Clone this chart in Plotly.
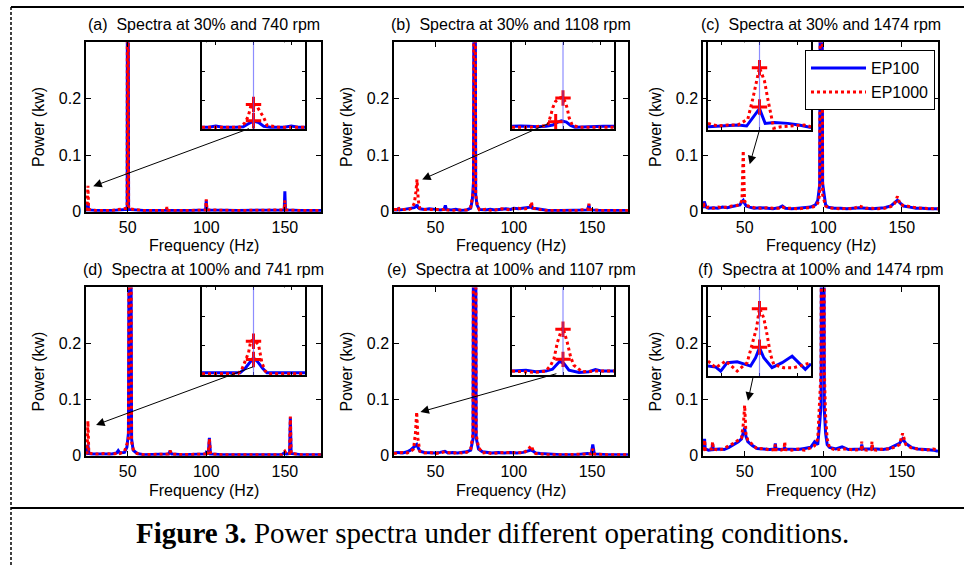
import plotly.graph_objects as go

# ---------------- text ----------------
panel_titles = ["(a)\u00a0 Spectra at 30% and 740 rpm", "(b)\u00a0 Spectra at 30% and 1108 rpm",
                "(c)\u00a0 Spectra at 30% and 1474 rpm", "(d)\u00a0 Spectra at 100% and 741 rpm",
                "(e)\u00a0 Spectra at 100% and 1107 rpm", "(f)\u00a0 Spectra at 100% and 1474 rpm"]
series_names = ["EP100", "EP1000"]
x_label = "Frequency (Hz)"
y_label = "Power (kw)"
caption_bold = "Figure 3."
caption_text = "Power spectra under different operating conditions."
x_tick_vals = [50, 100, 150]
y_tick_vals = [0, 0.1, 0.2]
y_tick_text = ["0", "0.1", "0.2"]

# ---------------- main spectra (Hz, kW) ----------------
a_freq = [23.5, 24.2, 24.7, 25.2, 30, 40, 49.4, 49.7, 50.0, 50.3, 50.6, 60, 74.5, 75, 75.5, 90,
          99.6, 100, 100.4, 120, 140, 149.6, 150, 150.4, 160, 173]
a_ep100 = [0.003, 0.003, 0.015, 0.003, 0.002, 0.002, 0.004, 0.01, 1.0, 0.01, 0.004, 0.002, 0.002, 0.005,
           0.002, 0.002, 0.003, 0.02, 0.003, 0.002, 0.002, 0.003, 0.036, 0.003, 0.002, 0.002]
a_ep1000 = [0.003, 0.004, 0.046, 0.004, 0.002, 0.002, 0.006, 0.012, 1.0, 0.012, 0.005, 0.002, 0.002, 0.008,
            0.002, 0.002, 0.003, 0.022, 0.003, 0.002, 0.002, 0.003, 0.02, 0.003, 0.002, 0.002]

b_freq = [23.5, 25.5, 26.2, 27, 30, 33, 35, 36.5, 37.5, 38.2, 39, 40, 43, 46, 50, 53, 55.5, 56.3, 57, 60,
          63, 66, 70, 72.5, 73.5, 74.3, 75, 75.7, 76.5, 78, 82, 85, 88, 92, 95, 98, 100, 103, 106, 109,
          110.5, 111.3, 112, 115, 118, 122, 130, 140, 147.3, 148, 148.7, 155, 165, 173]
b_ep100 = [0.003, 0.003, 0.005, 0.003, 0.004, 0.005, 0.006, 0.007, 0.009, 0.012,
           0.007, 0.005, 0.004, 0.005, 0.004, 0.003, 0.004, 0.011, 0.004, 0.003,
           0.004, 0.002, 0.003, 0.006, 0.02, 0.053, 1.0, 0.03, 0.012, 0.004,
           0.003, 0.004, 0.003, 0.004, 0.005, 0.004, 0.006, 0.005, 0.006, 0.007,
           0.008, 0.012, 0.006, 0.005, 0.004, 0.002, 0.002, 0.002, 0.003, 0.012,
           0.003, 0.002, 0.002, 0.002]
b_ep1000 = [0.004, 0.004, 0.008, 0.003, 0.004, 0.004, 0.006, 0.015, 0.035, 0.057,
            0.02, 0.006, 0.004, 0.004, 0.003, 0.004, 0.004, 0.006, 0.003, 0.002,
            0.003, 0.003, 0.003, 0.008, 0.025, 0.035, 1.0, 0.03, 0.015, 0.003,
            0.004, 0.002, 0.003, 0.005, 0.004, 0.003, 0.005, 0.006, 0.004, 0.006,
            0.009, 0.017, 0.006, 0.004, 0.003, 0.002, 0.002, 0.002, 0.004, 0.014,
            0.004, 0.002, 0.002, 0.002]

c_freq = [23.5, 24.3, 25.5, 27, 30, 33, 36, 39, 42, 45, 47, 48.3, 49.1, 49.9, 51, 53, 56, 60, 64, 68,
          72, 74, 76, 80, 84, 88, 92, 95, 96.5, 97.7, 98.8, 99.6, 100.5, 101.5, 103, 107, 111, 115, 119,
          123, 127, 131, 135, 139, 143, 145.5, 147.2, 149, 151, 155, 159, 163, 167, 173]
c_ep100 = [0.006, 0.018, 0.008, 0.006, 0.007, 0.006, 0.008, 0.007, 0.009, 0.01,
           0.012, 0.018, 0.02, 0.015, 0.01, 0.008, 0.006, 0.007, 0.006, 0.005,
           0.007, 0.01, 0.006, 0.005, 0.006, 0.007, 0.008, 0.012, 0.02, 0.047,
           1.0, 0.05, 0.03, 0.012, 0.008, 0.006, 0.006, 0.005, 0.006, 0.007,
           0.006, 0.005, 0.006, 0.007, 0.01, 0.016, 0.02, 0.015, 0.01, 0.008,
           0.006, 0.006, 0.005, 0.005]
c_ep1000 = [0.008, 0.012, 0.007, 0.008, 0.006, 0.008, 0.007, 0.009, 0.01, 0.011,
            0.013, 0.02, 0.108, 0.02, 0.012, 0.009, 0.007, 0.006, 0.007, 0.006,
            0.006, 0.008, 0.006, 0.006, 0.005, 0.006, 0.007, 0.01, 0.015, 0.03,
            1.0, 0.03, 0.02, 0.01, 0.007, 0.006, 0.005, 0.006, 0.005, 0.01,
            0.006, 0.006, 0.005, 0.006, 0.009, 0.015, 0.027, 0.012, 0.011, 0.008,
            0.007, 0.006, 0.006, 0.005]

d_freq = [23.5, 24.2, 24.7, 25.3, 27, 30, 35, 40, 43, 44, 45, 48, 49.5, 50.5, 51.5, 52.5, 53.5, 56, 60, 70,
          76, 77, 78, 85, 95, 99.5, 100, 101.3, 102, 102.7, 110, 130, 148, 150, 151, 153, 153.5, 154, 160, 173]
d_ep100 = [0.003, 0.004, 0.02, 0.004, 0.003, 0.003, 0.004, 0.003, 0.005, 0.009,
           0.005, 0.006, 0.015, 0.04, 1.0, 0.03, 0.01, 0.004, 0.002, 0.002,
           0.003, 0.008, 0.003, 0.002, 0.002, 0.003, 0.006, 0.003, 0.032, 0.003,
           0.002, 0.002, 0.002, 0.006, 0.003, 0.004, 0.068, 0.004, 0.002, 0.002]
d_ep1000 = [0.004, 0.005, 0.062, 0.005, 0.004, 0.003, 0.004, 0.003, 0.004, 0.005,
            0.004, 0.008, 0.02, 0.03, 1.0, 0.025, 0.012, 0.004, 0.002, 0.002,
            0.003, 0.009, 0.003, 0.002, 0.002, 0.003, 0.008, 0.003, 0.03, 0.003,
            0.002, 0.002, 0.002, 0.008, 0.003, 0.004, 0.07, 0.004, 0.002, 0.002]

e_freq = [23.5, 26, 29, 32, 34, 36, 37.2, 38, 38.8, 40, 43, 46, 50, 53, 56, 58, 61, 64, 67, 70,
          72.5, 74, 74.7, 75.3, 76, 77.5, 80, 83, 86, 90, 94, 98, 102, 106, 109, 111, 112.5, 114, 117, 121,
          130, 140, 147, 149.5, 150.5, 151.5, 160, 173]
e_ep100 = [0.005, 0.006, 0.005, 0.007, 0.01, 0.015, 0.018, 0.02, 0.015, 0.008,
           0.006, 0.005, 0.005, 0.006, 0.008, 0.005, 0.006, 0.005, 0.006, 0.007,
           0.01, 0.03, 1.0, 1.0, 0.032, 0.012, 0.007, 0.006, 0.005, 0.006,
           0.005, 0.006, 0.005, 0.006, 0.008, 0.01, 0.008, 0.005, 0.004, 0.003,
           0.002, 0.002, 0.004, 0.003, 0.02, 0.003, 0.002, 0.002]
e_ep1000 = [0.004, 0.005, 0.006, 0.005, 0.007, 0.012, 0.04, 0.078, 0.03, 0.008,
            0.005, 0.006, 0.004, 0.005, 0.007, 0.006, 0.004, 0.006, 0.005, 0.006,
            0.012, 0.04, 1.0, 1.0, 0.038, 0.015, 0.005, 0.006, 0.004, 0.005,
            0.006, 0.005, 0.006, 0.005, 0.01, 0.018, 0.009, 0.004, 0.003, 0.002,
            0.002, 0.002, 0.003, 0.003, 0.012, 0.003, 0.002, 0.002]

f_freq = [23.5, 24.1, 24.5, 24.9, 27, 29.2, 29.6, 30.0, 34, 37, 40, 43, 46, 48, 49.3, 50, 50.8, 52, 55, 58,
          62, 66, 69.1, 69.5, 69.9, 73, 75.1, 75.5, 75.9, 80, 84, 88, 92, 94.5, 96.5, 97.8, 98.6, 99.3, 100,
          100.7, 101.5, 102.5, 104, 108, 112, 116, 120, 124.1, 124.5, 124.9, 128, 130.6, 131, 131.4, 134,
          138, 142, 146, 148.5, 150.5, 152.5, 156, 160, 165, 170, 173]
f_ep100 = [0.010, 0.012, 0.030, 0.012, 0.010, 0.011, 0.022, 0.011, 0.012, 0.011,
           0.015, 0.020, 0.025, 0.030, 0.045, 0.050, 0.035, 0.025, 0.018, 0.013,
           0.012, 0.011, 0.012, 0.022, 0.012, 0.011, 0.012, 0.015, 0.012, 0.012,
           0.011, 0.013, 0.015, 0.025, 0.020, 0.060, 0.090, 1.0, 1.0, 0.080,
           0.040, 0.020, 0.015, 0.012, 0.016, 0.011, 0.012, 0.012, 0.020, 0.012,
           0.012, 0.012, 0.018, 0.012, 0.012, 0.011, 0.013, 0.018, 0.022, 0.030,
           0.022, 0.015, 0.012, 0.011, 0.010, 0.008]
f_ep1000 = [0.012, 0.012, 0.028, 0.011, 0.012, 0.012, 0.025, 0.012, 0.010, 0.013,
            0.018, 0.022, 0.028, 0.032, 0.060, 0.090, 0.040, 0.028, 0.020, 0.012,
            0.013, 0.010, 0.011, 0.020, 0.011, 0.010, 0.012, 0.025, 0.011, 0.010,
            0.012, 0.010, 0.014, 0.018, 0.030, 0.100, 0.150, 1.0, 1.0, 0.150,
            0.070, 0.030, 0.014, 0.010, 0.012, 0.012, 0.010, 0.011, 0.025, 0.011,
            0.010, 0.011, 0.025, 0.011, 0.010, 0.012, 0.012, 0.016, 0.020, 0.040,
            0.020, 0.014, 0.012, 0.010, 0.012, 0.010]

# ---------------- zoomed insets (offset from peak in Hz, kW) ----------------
inset_f0 = [24.7, 38.0, 49.1, 24.7, 38.0, 50.0]

a_in100_df = [-3, -2.6, -2.2, -1.8, -1.0, -0.6, -0.3, 0, 0.3, 0.6, 1.0, 1.8, 2.2, 2.6, 3]
a_in100_p = [0.0032, 0.0032, 0.0056, 0.0032, 0.0032, 0.004, 0.0096, 0.0144, 0.012, 0.0048, 0.0032, 0.0032,
             0.0056, 0.0032, 0.0032]
a_in1000_df = [-3, -1.5, -0.8, -0.5, -0.3, -0.15, 0, 0.2, 0.4, 0.6, 0.8, 1.5, 3]
a_in1000_p = [0.0032, 0.0032, 0.0032, 0.0112, 0.024, 0.0432, 0.0464, 0.0416, 0.032, 0.0208, 0.0064, 0.0032, 0.0032]
a_mark_df = [0, 0]
a_mark_p = [0.0453, 0.0151]

b_in100_df = [-3, -2.5, -2, -1.5, -1.0, -0.6, -0.3, -0.1, 0.2, 0.45, 0.7, 1.2, 1.8, 2.4, 3]
b_in100_p = [0.0048, 0.0056, 0.0048, 0.004, 0.0048, 0.0072, 0.0128, 0.015, 0.0128, 0.0064, 0.0032, 0.004,
             0.0048, 0.0048, 0.0048]
b_in1000_df = [-3, -2, -1.4, -0.9, -0.73, -0.6, -0.43, -0.15, 0, 0.16, 0.26, 0.36, 0.55, 1.0, 2, 3]
b_in1000_p = [0.0032, 0.0032, 0.0048, 0.0064, 0.024, 0.0392, 0.0512, 0.0576, 0.0584, 0.048, 0.0362, 0.0208,
              0.0064, 0.0032, 0.0032, 0.0032]
b_mark_df = [0, -0.43]
b_mark_p = [0.0573, 0.0133]

c_in100_df = [-3, -2.0, -1.25, -0.75, 0, 0.33, 0.87, 1.65, 2.3, 3]
c_in100_p = [0.0056, 0.0068, 0.0085, 0.0068, 0.037, 0.0114, 0.0131, 0.0114, 0.0085, 0.004]
c_in1000_df = [-3, -2.42, -1.84, -1.26, -0.68, -0.39, 0, 0.29, 0.48, 0.68, 0.83, 1.26, 2.03, 2.61, 3]
c_in1000_p = [0.0114, 0.0068, 0.0085, 0.0085, 0.0188, 0.0541, 0.108, 0.0851, 0.0541, 0.0257, 0.0029, 0.0056,
              0.0074, 0.0085, 0.0056]
c_mark_df = [0, 0]
c_mark_p = [0.108, 0.0398]

d_in100_df = [-3, -1.5, -0.78, -0.49, -0.25, 0, 0.25, 0.53, 0.78, 1.5, 3]
d_in100_p = [0.004, 0.004, 0.004, 0.0114, 0.021, 0.0296, 0.0225, 0.0114, 0.004, 0.004, 0.004]
d_in1000_df = [-3, -1.5, -0.9, -0.68, -0.49, -0.29, -0.16, 0, 0.29, 0.39, 0.49, 0.68, 0.9, 1.5, 3]
d_in1000_p = [0.0023, 0.0023, 0.0023, 0.0096, 0.0239, 0.0381, 0.0579, 0.0608, 0.0522, 0.0381, 0.021, 0.0068,
              0.0023, 0.0023, 0.0023]
d_mark_df = [0, 0]
d_mark_p = [0.0579, 0.0267]

e_in100_df = [-3, -2.18, -1.6, -1.01, -0.62, -0.43, -0.19, 0.06, 0.35, 0.94, 1.52, 1.91, 2.3, 3]
e_in100_p = [0.0065, 0.0081, 0.0054, 0.0065, 0.0097, 0.0162, 0.0228, 0.019, 0.0081, 0.0044, 0.0054, 0.0091,
             0.0065, 0.0065]
e_in1000_df = [-3, -2.48, -1.6, -1.01, -0.72, -0.53, -0.33, -0.14, 0, 0.25, 0.45, 0.64, 1.13, 1.91, 3]
e_in1000_p = [0.0065, 0.0054, 0.0044, 0.0065, 0.0162, 0.0271, 0.0541, 0.0703, 0.0784, 0.0541, 0.0297, 0.0162,
              0.0054, 0.0065, 0.0065]
e_mark_df = [0, 0]
e_mark_p = [0.0757, 0.026]

f_in100_df = [-3, -2.55, -2.26, -1.88, -1.3, -0.52, -0.23, 0, 0.25, 0.73, 1.32, 1.9, 2.38, 2.67, 3]
f_in100_p = [0.0127, 0.0114, 0.0063, 0.017, 0.0182, 0.0127, 0.0233, 0.0359, 0.0233, 0.0106, 0.017, 0.0254,
             0.0148, 0.0085, 0.0157]
f_in1000_df = [-3, -2.55, -1.97, -1.3, -0.72, -0.43, -0.17, 0, 0.25, 0.44, 0.64, 0.83, 1.41, 1.99, 2.57, 3]
f_in1000_p = [0.0191, 0.0106, 0.0191, 0.0063, 0.017, 0.0402, 0.0614, 0.0868, 0.074, 0.0529, 0.0275, 0.0148,
              0.0106, 0.0106, 0.0148, 0.017]
f_mark_df = [0, 0]
f_mark_p = [0.0859, 0.0368]

panels = [
    (a_freq, a_ep100, a_ep1000, a_in100_df, a_in100_p, a_in1000_df, a_in1000_p, a_mark_df, a_mark_p),
    (b_freq, b_ep100, b_ep1000, b_in100_df, b_in100_p, b_in1000_df, b_in1000_p, b_mark_df, b_mark_p),
    (c_freq, c_ep100, c_ep1000, c_in100_df, c_in100_p, c_in1000_df, c_in1000_p, c_mark_df, c_mark_p),
    (d_freq, d_ep100, d_ep1000, d_in100_df, d_in100_p, d_in1000_df, d_in1000_p, d_mark_df, d_mark_p),
    (e_freq, e_ep100, e_ep1000, e_in100_df, e_in100_p, e_in1000_df, e_in1000_p, e_mark_df, e_mark_p),
    (f_freq, f_ep100, f_ep1000, f_in100_df, f_in100_p, f_in1000_df, f_in1000_p, f_mark_df, f_mark_p),
]

# ---------------- geometry / style ----------------
W, H = 964, 575
XR = [23.5, 173]
YR = [0, 0.3]
COLS = [(86, 321), (394, 628), (703, 938)]
ROWS = [(43, 215), (292, 463)]
INSETS = [((202, 305), (43, 131)), ((512, 614), (43, 131)), ((708, 811), (43, 132)),
          ((202, 305), (292, 381)), ((512, 614), (292, 381)), ((708, 811), (292, 382))]
INSET_YMAX = [0.16, 0.16, 0.152, 0.15, 0.145, 0.113]
INSET_HALF = 3.0
# arrow: head (Hz, kW) in main axes, tail as fraction of inset box (x from left, y from bottom)
ARROWS = [(28.1, 0.045, 0.47, 0.01), (41.5, 0.057, 0.37, 0.07), (53.2, 0.084, 0.5, 0.0),
          (29.9, 0.055, 0.51, 0.10), (40.4, 0.078, 0.45, 0.02), (52.1, 0.098, 0.44, 0.0)]
TITLE_Y = [25, 274]
XLAB_Y = [249, 498]
BLUE, RED = "#0000ff", "#ff0000"
FONT = "Liberation Sans, Arial, Helvetica, sans-serif"
SERIF = "Liberation Serif, Times New Roman, serif"
FS = 16


def xp(px):
    return px / W


def yp(py):
    return 1 - py / H


fig = go.Figure()
axes = {}
annotations = []
shapes = []

for i, (fr, p100, p1000, i100x, i100y, i1000x, i1000y, mkx, mky) in enumerate(panels):
    r, c = divmod(i, 3)
    k = i + 1
    ki = i + 7
    sx = '' if k == 1 else str(k)
    xa, ya = 'x' + sx, 'y' + sx
    xi, yi = 'x' + str(ki), 'y' + str(ki)
    mx0, mx1 = COLS[c]
    my0, my1 = ROWS[r]
    (ix0, ix1), (iy0, iy1) = INSETS[i]
    f0 = inset_f0[i]
    show = (i == 2)

    fig.add_trace(go.Scatter(x=fr, y=p100, mode='lines', line=dict(color=BLUE, width=3),
                             name=series_names[0], showlegend=show, legendgroup='ep100',
                             xaxis=xa, yaxis=ya, hoverinfo='skip'))
    fig.add_trace(go.Scatter(x=fr, y=p1000, mode='lines', line=dict(color=RED, width=3, dash='dot'),
                             name=series_names[1], showlegend=show, legendgroup='ep1000',
                             xaxis=xa, yaxis=ya, hoverinfo='skip'))
    fig.add_trace(go.Scatter(x=[f0 + d for d in i100x], y=i100y, mode='lines',
                             line=dict(color=BLUE, width=3), showlegend=False,
                             xaxis=xi, yaxis=yi, hoverinfo='skip'))
    fig.add_trace(go.Scatter(x=[f0 + d for d in i1000x], y=i1000y, mode='lines',
                             line=dict(color=RED, width=3, dash='dot'), showlegend=False,
                             xaxis=xi, yaxis=yi, hoverinfo='skip'))
    fig.add_trace(go.Scatter(x=[f0 + d for d in mkx], y=mky, mode='markers',
                             marker=dict(symbol='cross-thin', size=11, line=dict(width=3, color=RED), color=RED),
                             showlegend=False, xaxis=xi, yaxis=yi, hoverinfo='skip'))

    common = dict(showline=True, linecolor='black', linewidth=1.5, mirror='ticks', ticks='inside',
                  tickcolor='black', showgrid=False, zeroline=False, fixedrange=True,
                  tickfont=dict(family=FONT, size=FS, color='black'))
    axes['xaxis' + sx] = dict(domain=[xp(mx0), xp(mx1)], anchor=ya, range=XR, tickvals=x_tick_vals,
                              ticklen=5, **common)
    axes['yaxis' + sx] = dict(domain=[yp(my1), yp(my0)], anchor=xa, range=YR, tickvals=y_tick_vals,
                              ticktext=y_tick_text, ticklen=5, **common)
    ymax = INSET_YMAX[i]
    axes['xaxis' + str(ki)] = dict(domain=[xp(ix0), xp(ix1)], anchor=yi,
                                   range=[f0 - INSET_HALF, f0 + INSET_HALF],
                                   tickvals=[f0 - 2.2, f0, f0 + 2.2], showticklabels=False, ticklen=3, **common)
    axes['yaxis' + str(ki)] = dict(domain=[yp(iy1), yp(iy0)], anchor=xi, range=[0, ymax],
                                   tickvals=[ymax / 3, 2 * ymax / 3], showticklabels=False, ticklen=3, **common)

    # thin marker line at the peak frequency in the inset
    shapes.append(dict(type='line', xref=xi, yref=yi + ' domain', x0=f0, x1=f0, y0=0, y1=1,
                       line=dict(color='rgba(80,80,255,0.65)', width=1.2), layer='above'))

    # arrow from inset to the zoomed peak
    hf, hp, tfx, tfy = ARROWS[i]
    tail_px = ix0 + tfx * (ix1 - ix0)
    tail_py = iy1 - tfy * (iy1 - iy0)
    tail_f = XR[0] + (tail_px - mx0) / (mx1 - mx0) * (XR[1] - XR[0])
    tail_p = YR[0] + (my1 - tail_py) / (my1 - my0) * (YR[1] - YR[0])
    annotations.append(dict(x=hf, y=hp, xref=xa, yref=ya, ax=tail_f, ay=tail_p, axref=xa, ayref=ya,
                            showarrow=True, arrowhead=2, arrowsize=1.7, arrowwidth=1, arrowcolor='black',
                            text='', standoff=0, startstandoff=0))

    cx = (mx0 + mx1) / 2
    annotations.append(dict(text=panel_titles[i], x=xp(cx), y=yp(TITLE_Y[r]), xref='paper', yref='paper',
                            xanchor='center', yanchor='middle', showarrow=False,
                            font=dict(family=FONT, size=FS, color='black')))
    annotations.append(dict(text=x_label, x=xp(cx), y=yp(XLAB_Y[r]), xref='paper', yref='paper',
                            xanchor='center', yanchor='middle', showarrow=False,
                            font=dict(family=FONT, size=FS, color='black')))
    annotations.append(dict(text=y_label, x=xp(mx0 - 47), y=yp((my0 + my1) / 2), xref='paper', yref='paper',
                            xanchor='center', yanchor='middle', showarrow=False, textangle=-90,
                            font=dict(family=FONT, size=FS, color='black')))

# caption
annotations.append(dict(text='<b>' + caption_bold + '</b> ' + caption_text, x=xp(493), y=yp(541),
                        xref='paper', yref='paper', xanchor='center', yanchor='middle', showarrow=False,
                        font=dict(family=SERIF, size=29, color='black')))

# figure frame
shapes.append(dict(type='line', xref='paper', yref='paper', x0=xp(11), x1=1, y0=yp(7), y1=yp(7),
                   line=dict(color='black', width=2)))
shapes.append(dict(type='line', xref='paper', yref='paper', x0=xp(11), x1=1, y0=yp(516), y1=yp(516),
                   line=dict(color='black', width=2)))
shapes.append(dict(type='line', xref='paper', yref='paper', x0=xp(11), x1=xp(11), y0=yp(7), y1=0,
                   line=dict(color='black', width=1.5, dash='3px,2px')))

fig.update_layout(
    width=W, height=H, margin=dict(l=0, r=0, t=0, b=0),
    paper_bgcolor='white', plot_bgcolor='white',
    showlegend=True,
    legend=dict(x=xp(935), xanchor='right', y=yp(51), yanchor='top', bgcolor='white',
                bordercolor='black', borderwidth=1, font=dict(family=FONT, size=FS, color='black'),
                itemwidth=55, tracegroupgap=0),
    annotations=annotations, shapes=shapes,
    **axes
)

fig.write_html("out.html", config={'displayModeBar': False},
               post_script="document.body.style.margin='0px';document.body.style.overflow='hidden';")
